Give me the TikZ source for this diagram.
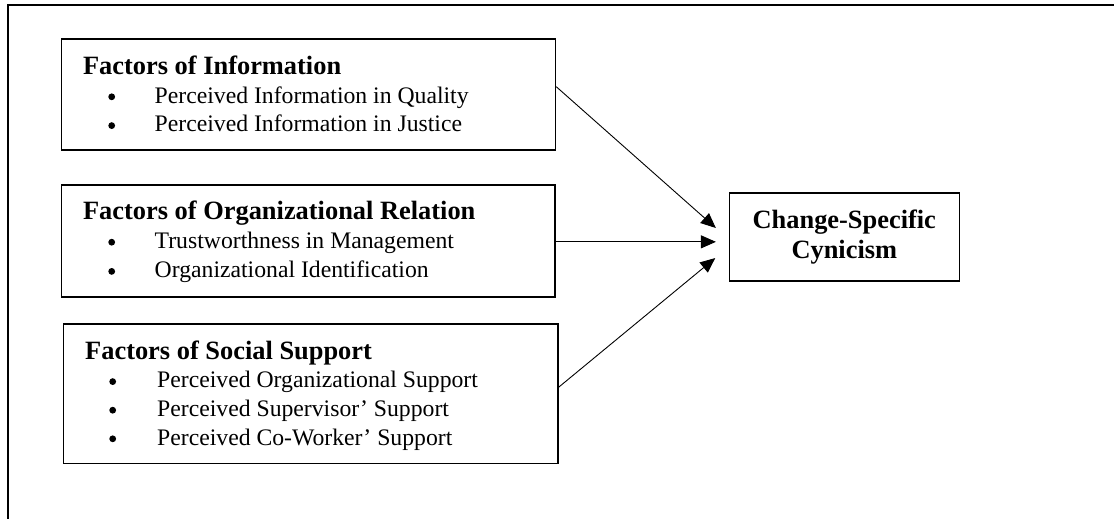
\documentclass[tikz,border=0pt]{standalone}
\usepackage{fontspec}
\setmainfont{Liberation Serif}
\usetikzlibrary{arrows.meta}

\begin{document}
\begin{tikzpicture}[x=1pt, y=1pt,
    factor/.style={draw, line width=1.6pt, inner sep=0pt},
    head/.style={anchor=base west, inner sep=0pt, font=\fontsize{26.4}{30}\selectfont\bfseries},
    item/.style={anchor=base west, inner sep=0pt, font=\fontsize{23.7}{28}\selectfont},
    dot/.style={circle, fill, inner sep=0pt, minimum size=6.8pt},
    link/.style={-{Triangle[length=15pt, width=13pt]}, line width=0.9pt}]

      \useasboundingbox (0,0) rectangle (1114,-519);

      % Outer frame, only its left and top edges show
      \draw[line width=2pt] (7.9,-519) -- (7.9,-5.3) -- (1114,-5.3);

      % The three factor boxes
      \node[factor, minimum width=494pt, minimum height=110.7pt] (info) at (308.4,-94.65) {};
      \node[factor, minimum width=493.6pt, minimum height=111.7pt] (rel) at (308.2,-240.85) {};
      \node[factor, minimum width=494.2pt, minimum height=139.3pt] (soc) at (310.6,-393.65) {};

      % Headings
      \node[head] (infoT) at (82.9,-74.3) {Factors of Information};
      \node[head] (relT) at (82.9,-219.3) {Factors of Organizational Relation};
      \node[head] (socT) at (85,-359.3) {Factors of Social Support};

      % Bullet items
      \foreach \i/\txt in {1/Perceived Information in Quality, 2/Perceived Information in Justice} {
          \node[dot] (infoB\i) at (111.7,-68-28.8*\i) {};
          \node[item] (infoI\i) at (154.5,-74.3-28.8*\i) {\txt};
      }
      \foreach \i/\txt in {1/Trustworthness in Management, 2/Organizational Identification} {
          \node[dot] (relB\i) at (111.7,-213-29.2*\i) {};
          \node[item] (relI\i) at (154.5,-219.3-29.2*\i) {\txt};
      }
      \foreach \i/\txt in {1/Perceived Organizational Support, 2/Perceived Supervisor’ Support, 3/Perceived Co-Worker’ Support} {
          \node[dot] (socB\i) at (112.7,-353-28.6*\i) {};
          \node[item] (socI\i) at (157,-359.3-28.6*\i) {\txt};
      }

      % Outcome box
      \node[factor, minimum width=230pt, minimum height=88pt, align=center,
            font=\fontsize{26.4}{30}\selectfont\bfseries] (cyn) at (844.3,-237) {Change-Specific\\Cynicism};

      % Arrows into the outcome
      \draw[link, shorten >=16.9pt] ([yshift=8pt]info.east) -- ([yshift=-2.2pt]cyn.west);
      \draw[link, shorten >=12.6pt] ([yshift=-1pt]rel.east) -- ([yshift=-4.85pt]cyn.west);
      \draw[link, shorten >=17.2pt] ([yshift=6.3pt]soc.east) -- ([yshift=-10.1pt]cyn.west);

\end{tikzpicture}
\end{document}
